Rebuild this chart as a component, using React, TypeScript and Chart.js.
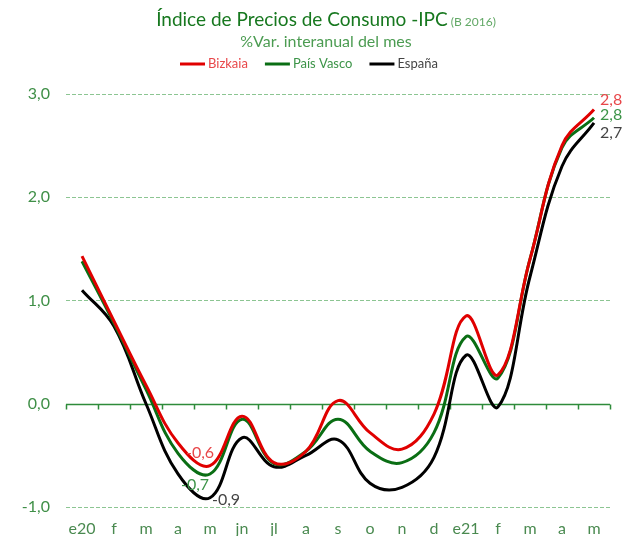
import React, { useEffect, useRef } from 'react';
import { Chart, registerables } from 'chart.js';
Chart.register(...registerables);

const categories = ['e20', 'f', 'm', 'a', 'm', 'jn', 'jl', 'a', 's', 'o', 'n', 'd', 'e21', 'f', 'm', 'a', 'm'];
const bizkaia = [1.43, 0.8, 0.18, -0.38, -0.6, -0.12, -0.57, -0.46, 0.03, -0.28, -0.44, -0.1, 0.85, 0.28, 1.4, 2.5, 2.85];
const paisVasco = [1.38, 0.78, 0.14, -0.48, -0.68, -0.15, -0.58, -0.46, -0.15, -0.46, -0.57, -0.28, 0.65, 0.25, 1.4, 2.48, 2.77];
const espana = [1.1, 0.75, 0.0, -0.68, -0.91, -0.33, -0.61, -0.5, -0.35, -0.77, -0.81, -0.52, 0.47, -0.03, 1.23, 2.3, 2.72];
const seriesNames = ['Bizkaia', 'País Vasco', 'España'];
const lastLabels = [2.8, 2.8, 2.7];
const minLabels = [-0.6, -0.7, -0.9];
const minIndex = 4;
const yMin = -1;
const yMax = 3;

const FONT = 'Lato, "Open Sans", sans-serif';
const lineColors = ['#e00000', '#0a6e14', '#000000'];
const textColors = ['#e8474a', '#3c9448', '#444444'];
const fmt = (v: number) => v.toFixed(1).replace('.', ',');

const decorPlugin = {
  id: 'decor',
  beforeDatasetsDraw(chart: any) {
    const ctx = chart.ctx;
    const x = chart.scales.x;
    const y = chart.scales.y;
    const y0 = Math.round(y.getPixelForValue(0)) + 0.5;
    ctx.save();
    ctx.strokeStyle = '#2e8b3a';
    ctx.lineWidth = 1.5;
    ctx.beginPath();
    ctx.moveTo(chart.chartArea.left, y0);
    ctx.lineTo(chart.chartArea.right, y0);
    const step = x.getPixelForValue(1) - x.getPixelForValue(0);
    for (let i = 0; i <= categories.length; i++) {
      const px = Math.round(x.getPixelForValue(i) - step / 2) + 0.5;
      ctx.moveTo(px, y0);
      ctx.lineTo(px, y0 + 5);
    }
    ctx.stroke();
    ctx.restore();
  },
  afterDraw(chart: any) {
    const ctx = chart.ctx;
    ctx.save();
    // Title
    const t1 = 'Índice de Precios de Consumo -IPC';
    const t2 = ' (B 2016)';
    ctx.font = `19px ${FONT}`;
    const w1 = ctx.measureText(t1).width;
    ctx.font = `12px ${FONT}`;
    const w2 = ctx.measureText(t2).width;
    const cx = 326;
    let sx = cx - (w1 + w2) / 2;
    ctx.textBaseline = 'alphabetic';
    ctx.textAlign = 'left';
    ctx.font = `19px ${FONT}`;
    ctx.fillStyle = '#17781f';
    ctx.fillText(t1, sx, 26);
    ctx.font = `12px ${FONT}`;
    ctx.fillStyle = '#62a866';
    ctx.fillText(t2, sx + w1, 26);
    // Subtitle
    ctx.font = `16px ${FONT}`;
    ctx.fillStyle = '#4c9c52';
    ctx.textAlign = 'center';
    ctx.fillText('%Var. interanual del mes', cx, 47);
    // Legend
    ctx.font = `13px ${FONT}`;
    ctx.textAlign = 'left';
    ctx.textBaseline = 'middle';
    let lx = 180;
    const ly = 64;
    seriesNames.forEach((name, i) => {
      ctx.strokeStyle = lineColors[i];
      ctx.lineWidth = 3;
      ctx.beginPath();
      ctx.moveTo(lx, ly);
      ctx.lineTo(lx + 25, ly);
      ctx.stroke();
      ctx.fillStyle = textColors[i];
      ctx.fillText(name, lx + 28, ly);
      lx += 28 + ctx.measureText(name).width + 17;
    });
    // Data labels
    ctx.font = `16px ${FONT}`;
    ctx.textBaseline = 'middle';
    const endOffsets = [-10, -3, 10];
    const minOffsets = [
      [-10, -13, 'center'],
      [-15, 11, 'center'],
      [2, 2, 'left'],
    ];
    [0, 1, 2].forEach((i) => {
      const meta = chart.getDatasetMeta(i);
      const last = meta.data[meta.data.length - 1];
      ctx.fillStyle = textColors[i];
      ctx.textAlign = 'left';
      ctx.fillText(fmt(lastLabels[i]), last.x + 6, last.y + endOffsets[i]);
      const p = meta.data[minIndex];
      const o = minOffsets[i] as any[];
      ctx.textAlign = o[2];
      ctx.fillText(fmt(minLabels[i]), p.x + o[0], p.y + o[1]);
    });
    ctx.restore();
  },
};

export default function App() {
  const ref = useRef<HTMLCanvasElement>(null);
  useEffect(() => {
    if (!ref.current) return;
    const series = [bizkaia, paisVasco, espana];
    const chart = new Chart(ref.current, {
      type: 'line',
      data: {
        labels: categories,
        datasets: series.map((d, i) => ({
          label: seriesNames[i],
          data: d,
          borderColor: lineColors[i],
          backgroundColor: lineColors[i],
          borderWidth: 3,
          pointRadius: 0,
          tension: 0.4,
          fill: false,
        })),
      },
      options: {
        responsive: false,
        animation: false,
        layout: { padding: { top: 94, right: 17, left: 0, bottom: 0 } },
        plugins: { legend: { display: false }, title: { display: false }, tooltip: { enabled: false } },
        scales: {
          x: {
            offset: true,
            grid: { display: false, drawTicks: false },
            border: { display: false },
            ticks: {
              color: '#4a8a50',
              font: { family: FONT, size: 16 },
              padding: 12,
              maxRotation: 0,
              autoSkip: false,
            },
            afterFit: (s: any) => {
              s.height = 29;
            },
          },
          y: {
            min: yMin,
            max: yMax,
            grid: {
              drawTicks: false,
              color: (c: any) => (c.tick && c.tick.value === 0 ? 'rgba(0,0,0,0)' : '#8cc592'),
              lineWidth: 1,
            },
            border: { display: false, dash: [4, 2] },
            ticks: {
              stepSize: 1,
              color: '#3f8f47',
              font: { family: FONT, size: 16 },
              padding: 16,
              callback: (v: any) => fmt(Number(v)),
            },
            afterFit: (s: any) => {
              s.width = 66;
            },
          },
        },
      },
      plugins: [decorPlugin],
    });
    return () => chart.destroy();
  }, []);
  return (
    <div style={{ position: 'fixed', left: 0, top: 0, width: 627, height: 536, background: '#fff' }}>
      <canvas ref={ref} width={627} height={536} style={{ display: 'block' }} />
    </div>
  );
}
